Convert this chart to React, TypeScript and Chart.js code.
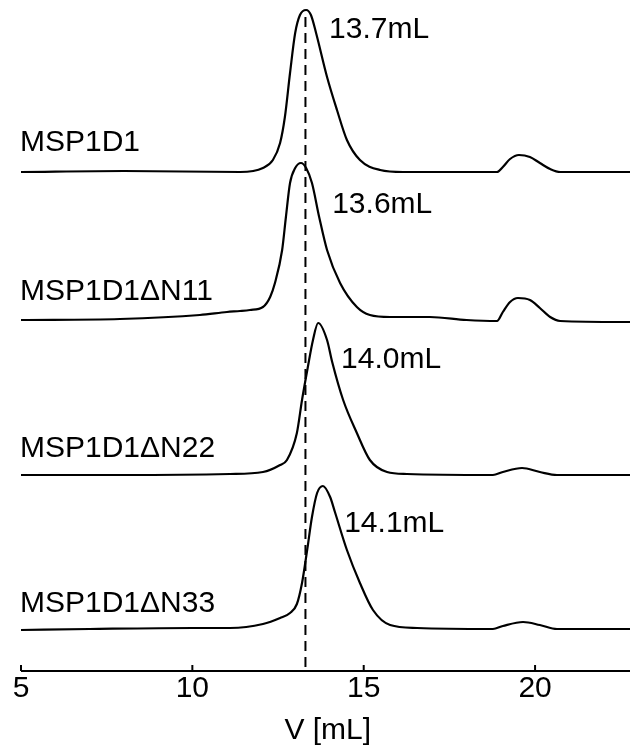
import React, { useEffect, useRef } from 'react';
import { Chart, registerables } from 'chart.js';

Chart.register(...registerables);

// ---- axis ----
const X_MIN = 5;
const X_MAX = 22.77;
const X_TICKS = [5, 10, 15, 20];
const X_TITLE = 'V [mL]';
const Y_MIN = 0;
const Y_MAX = 6.71;

// ---- annotations ----
const SAMPLE_NAMES = ['MSP1D1', 'MSP1D1ΔN11', 'MSP1D1ΔN22', 'MSP1D1ΔN33'];
const PEAK_LABELS = ['13.7mL', '13.6mL', '14.0mL', '14.1mL'];
const PEAK_LABEL_V = [13.99, 14.08, 14.34, 14.43];
const PEAK_LABEL_Y = [6.33, 4.58, 3.03, 1.39];
const NAME_LABEL_Y = [5.2, 3.71, 2.14, 0.59];
const BASELINE_OFFSETS = [4.99, 3.51, 1.96, 0.42];
const REFERENCE_V = 13.3;
const REFERENCE_TOP = 6.54;

// ---- traces (elution volume, mL / absorbance, a.u.) ----
const MSP1D1_V = [5.0, 8.0, 11.4, 12.06, 12.35, 12.56, 12.7, 12.85, 13.0, 13.14, 13.32, 13.46, 13.61, 13.93, 14.22, 14.51, 14.89, 15.48, 16.15, 18.0, 18.89, 19.06, 19.27, 19.53, 19.85, 20.14, 20.44, 20.73, 22.77];
const MSP1D1_A = [0, 0.01, 0, 0.04, 0.12, 0.29, 0.55, 0.99, 1.39, 1.57, 1.62, 1.57, 1.39, 0.95, 0.62, 0.32, 0.12, 0.02, 0, 0, 0, 0.05, 0.13, 0.17, 0.15, 0.09, 0.03, 0, 0];

const N11_V = [5.0, 7.89, 10.22, 11.01, 11.39, 11.68, 12.06, 12.27, 12.41, 12.62, 12.73, 12.85, 13.0, 13.17, 13.32, 13.49, 13.7, 13.93, 14.31, 14.8, 15.18, 15.77, 16.93, 18.0, 18.89, 19.06, 19.27, 19.5, 19.85, 20.14, 20.44, 20.73, 22.77];
const N11_A = [0, 0.01, 0.05, 0.08, 0.09, 0.1, 0.13, 0.23, 0.37, 0.7, 1.03, 1.37, 1.52, 1.57, 1.52, 1.37, 1.03, 0.7, 0.37, 0.13, 0.05, 0.03, 0.03, 0, -0.01, 0.08, 0.18, 0.22, 0.2, 0.12, 0.03, -0.01, -0.02];

const N22_V = [5.0, 8.0, 11.1, 12.06, 12.56, 12.76, 13.05, 13.2, 13.37, 13.52, 13.67, 13.93, 14.08, 14.4, 14.8, 15.18, 15.68, 16.26, 18.77, 19.06, 19.62, 20.14, 20.64, 22.77];
const N22_A = [0, 0, 0.01, 0.03, 0.1, 0.15, 0.42, 0.75, 1.08, 1.35, 1.52, 1.35, 1.13, 0.75, 0.42, 0.15, 0.03, 0.01, 0, 0.03, 0.07, 0.03, 0, 0];

const N33_V = [5.0, 7.0, 10.0, 11.1, 12.06, 12.56, 12.85, 13.05, 13.2, 13.35, 13.49, 13.64, 13.81, 14.02, 14.16, 14.51, 14.89, 15.27, 15.77, 16.56, 18.77, 19.06, 19.65, 20.14, 20.64, 22.77];
const N33_A = [-0.01, 0, 0.01, 0.01, 0.05, 0.11, 0.16, 0.25, 0.46, 0.79, 1.12, 1.36, 1.43, 1.32, 1.17, 0.79, 0.46, 0.19, 0.04, 0.01, 0, 0.03, 0.07, 0.04, 0, 0];

const TRACE_V = [MSP1D1_V, N11_V, N22_V, N33_V];
const TRACE_A = [MSP1D1_A, N11_A, N22_A, N33_A];

const FONT = "'Liberation Sans', Arial, sans-serif";

export default function App() {
  const ref = useRef<HTMLCanvasElement | null>(null);

  useEffect(() => {
    const canvas = ref.current;
    if (!canvas) return;

    const traceSets = TRACE_V.map((vs, i) => ({
      label: SAMPLE_NAMES[i],
      data: vs.map((v, k) => ({ x: v, y: BASELINE_OFFSETS[i] + TRACE_A[i][k] })),
      borderColor: '#000',
      borderWidth: 2.2,
      pointRadius: 0,
      fill: false,
      cubicInterpolationMode: 'monotone' as const,
    }));

    const refLine = {
      label: 'ref',
      data: [
        { x: REFERENCE_V, y: REFERENCE_TOP },
        { x: REFERENCE_V, y: Y_MIN },
      ],
      borderColor: '#000',
      borderWidth: 2,
      borderDash: [10, 6],
      pointRadius: 0,
      fill: false,
    };

    const overlay = {
      id: 'overlay',
      afterDatasetsDraw(chart: any) {
        const ctx = chart.ctx;
        const xs = chart.scales.x;
        const ys = chart.scales.y;
        const area = chart.chartArea;
        ctx.save();
        // axis line + inward ticks
        ctx.strokeStyle = '#000';
        ctx.lineWidth = 2;
        ctx.beginPath();
        ctx.moveTo(area.left, area.bottom);
        ctx.lineTo(area.right, area.bottom);
        ctx.stroke();
        X_TICKS.forEach((t) => {
          const px = xs.getPixelForValue(t);
          ctx.beginPath();
          ctx.moveTo(px, area.bottom);
          ctx.lineTo(px, area.bottom - 6);
          ctx.stroke();
        });
        // labels
        ctx.fillStyle = '#000';
        ctx.font = `30px ${FONT}`;
        ctx.textBaseline = 'alphabetic';
        ctx.textAlign = 'left';
        SAMPLE_NAMES.forEach((n, i) => {
          ctx.fillText(n, area.left - 1, ys.getPixelForValue(NAME_LABEL_Y[i]));
        });
        PEAK_LABELS.forEach((n, i) => {
          ctx.fillText(n, xs.getPixelForValue(PEAK_LABEL_V[i]), ys.getPixelForValue(PEAK_LABEL_Y[i]));
        });
        // axis title
        ctx.textAlign = 'center';
        ctx.fillText(X_TITLE, xs.getPixelForValue(13.95), 739);
        ctx.restore();
      },
    };

    const chart = new Chart(canvas, {
      type: 'line',
      data: { datasets: [refLine as any, ...traceSets] },
      options: {
        animation: false,
        responsive: false,
        maintainAspectRatio: false,
        layout: { padding: { left: 21, right: 0, top: 0, bottom: 0 } },
        plugins: { legend: { display: false }, tooltip: { enabled: false } },
        scales: {
          x: {
            type: 'linear',
            min: X_MIN,
            max: X_MAX,
            border: { display: false },
            grid: { display: false, drawTicks: false },
            ticks: {
              padding: 0,
              color: '#000',
              font: { family: FONT, size: 30 },
              maxRotation: 0,
              autoSkip: false,
            },
            afterBuildTicks: (scale: any) => {
              scale.ticks = X_TICKS.map((v) => ({ value: v }));
            },
            afterFit: (scale: any) => {
              scale.height = 80;
            },
          },
          y: {
            type: 'linear',
            display: false,
            min: Y_MIN,
            max: Y_MAX,
          },
        },
      },
      plugins: [overlay],
    });

    return () => chart.destroy();
  }, []);

  return (
    <div style={{ position: 'absolute', left: 0, top: 0, width: 630, height: 751, background: '#fff' }}>
      <canvas ref={ref} width={630} height={751} />
    </div>
  );
}
